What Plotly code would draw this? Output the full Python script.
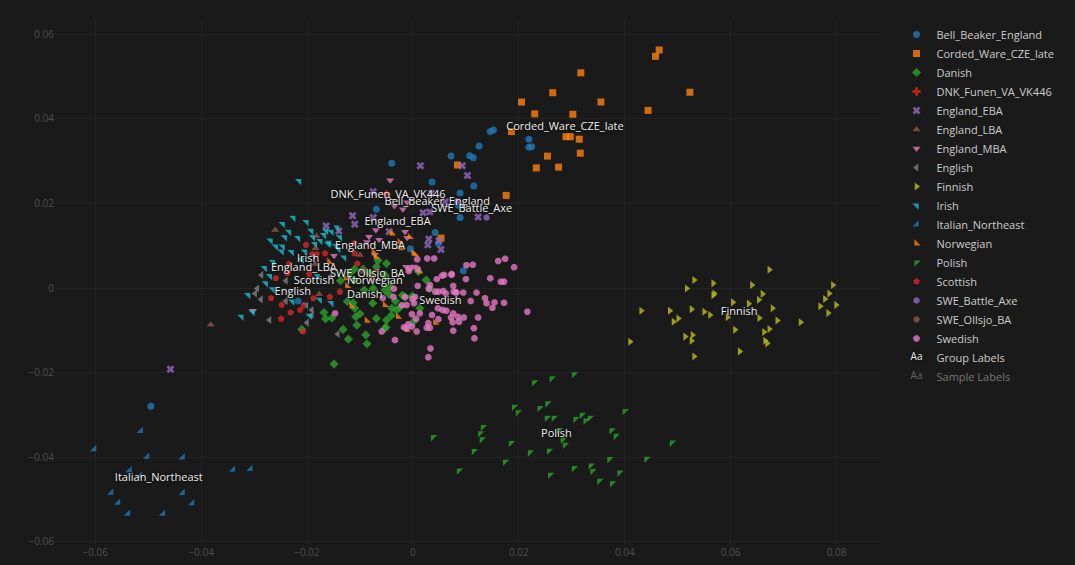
import plotly.graph_objects as go

# ---------------- data (PC1, PC2) ----------------
bell_beaker_x = [-0.0495, 0.0152, 0.0146, 0.0125, 0.0219, 0.0224, 0.0219, 0.0107, 0.0114, 0.0072, 0.0115,
                 0.0089, -0.0040, 0.0036, -0.0069, 0.0086, 0.0089, 0.0042, -0.0005, 0.0048, 0.0095, -0.0217]
bell_beaker_y = [-0.0280, 0.0374, 0.0370, 0.0336, 0.0352, 0.0334, 0.0333, 0.0313, 0.0308, 0.0312, 0.0241,
                 0.0225, 0.0295, 0.0251, 0.0186, 0.0196, 0.0167, 0.0131, 0.0093, 0.0105, 0.0041, -0.0031]

corded_x = [0.0465, 0.0458, 0.0317, 0.0264, 0.0205, 0.0355, 0.0523, 0.0230, 0.0302, 0.0444, 0.0186,
            0.0289, 0.0297, 0.0314, 0.0316, 0.0254, 0.0233, 0.0275, 0.0176, 0.0084, 0.0053]
corded_y = [0.0563, 0.0548, 0.0509, 0.0462, 0.0440, 0.0440, 0.0463, 0.0412, 0.0411, 0.0420, 0.0370,
            0.0358, 0.0358, 0.0352, 0.0319, 0.0312, 0.0284, 0.0286, 0.0219, 0.0291, 0.0118]

danish_x = [-0.0168, -0.0165, -0.0153, -0.0210, -0.0132, -0.0122, -0.0149, -0.0108, -0.0100, -0.0089, -0.0087,
            -0.0069, -0.0113, -0.0110, -0.0124, -0.0076, -0.0118, -0.0137, -0.0111, -0.0081, -0.0069, -0.0050,
            -0.0053, -0.0106, -0.0110, -0.0094, -0.0092, -0.0075, -0.0053, -0.0033, -0.0020, -0.0001, -0.0041,
            -0.0031, 0.0025, 0.0032, 0.0010, -0.0066, -0.0050, -0.0053, -0.0040, -0.0051, -0.0025, 0.0001,
            0.0013, -0.0043, -0.0015, -0.0045]
danish_y = [-0.0058, -0.0073, -0.0071, -0.0098, -0.0098, -0.0121, -0.0180, -0.0068, -0.0061, -0.0111, -0.0132,
            -0.0072, -0.0035, -0.0048, -0.0032, -0.0036, 0.0036, 0.0017, 0.0019, 0.0035, 0.0050, -0.0076,
            -0.0095, -0.0088, 0.0045, 0.0045, -0.0005, -0.0001, -0.0005, -0.0031, -0.0017, -0.0019, -0.0065,
            -0.0052, 0.0019, -0.0001, 0.0039, 0.0065, 0.0058, 0.0031, -0.0048, -0.0093, -0.0046, -0.0080,
            -0.0048, 0.0003, -0.0022, -0.0015]

dnk_funen_x = [-0.0050]
dnk_funen_y = [0.0222]

england_eba_x = [-0.0458, 0.0014, 0.0093, 0.0103, -0.0075, 0.0035, 0.0061, 0.0019, 0.0032, 0.0123,
                 -0.0114, -0.0110, -0.0075, -0.0140, -0.0045, 0.0030, 0.0028, 0.0049, -0.0164, 0.0053]
england_eba_y = [-0.0192, 0.0289, 0.0289, 0.0266, 0.0228, 0.0224, 0.0204, 0.0178, 0.0180, 0.0168,
                 0.0171, 0.0151, 0.0167, 0.0135, 0.0133, 0.0116, 0.0102, 0.0112, 0.0147, 0.0091]

england_lba_x = [-0.0382, -0.0260, -0.0182, -0.0184, -0.0177, -0.0069, -0.0100, -0.0041, -0.0185]
england_lba_y = [-0.0087, 0.0137, 0.0123, 0.0094, -0.0015, 0.0043, 0.0078, 0.0132, 0.0057]

england_mba_x = [-0.0043, -0.0011, -0.0035, -0.0019, -0.0070, -0.0015, -0.0011, -0.0083, -0.0064, -0.0087,
                 -0.0149, -0.0072, -0.0013, 0.0002, -0.0302]
england_mba_y = [0.0255, 0.0203, 0.0194, 0.0186, 0.0137, 0.0133, 0.0119, 0.0121, 0.0114, 0.0109,
                 0.0076, 0.0078, 0.0050, 0.0051, -0.0054]

english_x = [-0.0286, -0.0294, -0.0298, -0.0287, -0.0240, -0.0240, -0.0271, -0.0191, -0.0191, -0.0200,
             -0.0142, -0.0155]
english_y = [0.0031, -0.0001, -0.0013, -0.0027, 0.0017, -0.0031, -0.0076, -0.0052, -0.0064, -0.0082,
             -0.0109, 0.0028]

finnish_x = [0.0673, 0.0531, 0.0567, 0.0517, 0.0640, 0.0569, 0.0567, 0.0660, 0.0653, 0.0604, 0.0634,
             0.0793, 0.0786, 0.0778, 0.0769, 0.0799, 0.0784, 0.0431, 0.0485, 0.0526, 0.0550, 0.0561,
             0.0492, 0.0501, 0.0594, 0.0654, 0.0679, 0.0688, 0.0732, 0.0608, 0.0663, 0.0673, 0.0665,
             0.0669, 0.0514, 0.0528, 0.0526, 0.0410, 0.0617, 0.0531]
finnish_y = [0.0043, 0.0019, 0.0011, -0.0001, 0.0007, -0.0013, -0.0017, -0.0014, -0.0028, -0.0034, -0.0037,
             0.0007, -0.0013, -0.0026, -0.0043, -0.0040, -0.0059, -0.0054, -0.0054, -0.0050, -0.0056, -0.0064,
             -0.0080, -0.0072, -0.0069, -0.0071, -0.0048, -0.0077, -0.0081, -0.0099, -0.0104, -0.0097, -0.0125,
             -0.0131, -0.0115, -0.0111, -0.0125, -0.0127, -0.0150, -0.0162]

irish_x = [-0.0215, -0.0226, -0.0246, -0.0201, -0.0234, -0.0269, -0.0242, -0.0217, -0.0192, -0.0189, -0.0259,
           -0.0246, -0.0229, -0.0248, -0.0204, -0.0175, -0.0164, -0.0154, -0.0143, -0.0158, -0.0145, -0.0141,
           -0.0168, -0.0264, -0.0280, -0.0210, -0.0138, -0.0270, -0.0278, -0.0265, -0.0311, -0.0324, -0.0228,
           -0.0202, -0.0176, -0.0154, -0.0180, -0.0195, -0.0185, -0.0160, -0.0303, -0.0188, -0.0130]
irish_y = [0.0253, 0.0166, 0.0151, 0.0156, 0.0133, 0.0112, 0.0120, 0.0118, 0.0135, 0.0120, 0.0098,
           0.0098, 0.0085, 0.0086, 0.0086, 0.0111, 0.0135, 0.0133, 0.0143, 0.0107, 0.0099, 0.0092,
           0.0125, 0.0061, 0.0047, 0.0066, 0.0120, 0.0028, 0.0011, -0.0003, -0.0017, -0.0068, -0.0032,
           -0.0040, -0.0028, -0.0036, 0.0028, -0.0066, 0.0104, 0.0104, -0.0057, 0.0076, 0.0072]

italian_x = [-0.0514, -0.0602, -0.0502, -0.0435, -0.0340, -0.0307, -0.0535, -0.0516, -0.0570, -0.0435,
             -0.0557, -0.0417, -0.0538, -0.0472]
italian_y = [-0.0338, -0.0381, -0.0399, -0.0401, -0.0430, -0.0428, -0.0431, -0.0444, -0.0484, -0.0485,
             -0.0508, -0.0509, -0.0534, -0.0534]

norwegian_x = [-0.0006, 0.0001, 0.0012, -0.0028, 0.0042, -0.0053, -0.0012, -0.0025, -0.0040, -0.0023,
               -0.0074, -0.0070, -0.0158, -0.0127, -0.0124, 0.0004, -0.0116, -0.0087]
norwegian_y = [0.0121, 0.0082, 0.0039, -0.0068, -0.0082, -0.0040, -0.0099, 0.0109, 0.0129, 0.0094,
               0.0085, 0.0073, 0.0062, 0.0023, 0.0005, 0.0080, -0.0043, -0.0077]

polish_x = [0.0229, 0.0262, 0.0304, 0.0191, 0.0198, 0.0239, 0.0254, 0.0253, 0.0266, 0.0307, 0.0319,
            0.0326, 0.0334, 0.0400, 0.0132, 0.0127, 0.0130, 0.0038, 0.0115, 0.0185, 0.0221, 0.0257,
            0.0276, 0.0283, 0.0287, 0.0375, 0.0383, 0.0489, 0.0087, 0.0174, 0.0259, 0.0304, 0.0336,
            0.0339, 0.0371, 0.0441, 0.0390, 0.0352, 0.0376]
polish_y = [-0.0223, -0.0214, -0.0204, -0.0281, -0.0294, -0.0284, -0.0273, -0.0307, -0.0307, -0.0310, -0.0300,
            -0.0314, -0.0307, -0.0291, -0.0329, -0.0344, -0.0358, -0.0353, -0.0386, -0.0367, -0.0389, -0.0385,
            -0.0336, -0.0359, -0.0371, -0.0337, -0.0350, -0.0366, -0.0432, -0.0411, -0.0442, -0.0426, -0.0420,
            -0.0433, -0.0405, -0.0404, -0.0437, -0.0456, -0.0462]

scottish_x = [-0.0202, -0.0190, -0.0182, -0.0166, -0.0234, -0.0237, -0.0196, -0.0259, -0.0268, -0.0248, -0.0213,
              -0.0231, -0.0206, -0.0249, -0.0208, -0.0188, -0.0157, -0.0138, -0.0105, -0.0110, -0.0111]
scottish_y = [0.0102, 0.0080, 0.0080, 0.0082, 0.0057, 0.0035, 0.0033, 0.0023, -0.0024, -0.0040, -0.0052,
              -0.0058, -0.0041, -0.0073, -0.0103, -0.0024, -0.0021, -0.0009, 0.0058, 0.0082, 0.0106]

swe_battle_axe_x = [0.0139, 0.0083]
swe_battle_axe_y = [0.0167, 0.0205]

swe_ollsjo_x = [-0.0095, -0.0078]
swe_ollsjo_y = [0.0040, 0.0024]

swedish_x = [0.0040, 0.0008, 0.0113, 0.0161, 0.0174, 0.0191, -0.0008, 0.0073, 0.0055, 0.0045, 0.0100,
             0.0146, 0.0166, 0.0172, 0.0076, 0.0009, 0.0032, 0.0030, -0.0036, 0.0004, 0.0042, 0.0048,
             0.0057, 0.0062, 0.0081, 0.0095, 0.0120, 0.0136, 0.0154, 0.0172, 0.0139, 0.0150, 0.0109,
             0.0216, -0.0021, -0.0012, 0.0002, 0.0056, 0.0063, 0.0076, 0.0085, 0.0072, 0.0096, 0.0123,
             0.0036, 0.0048, 0.0087, 0.0075, 0.0115, 0.0076, -0.0002, 0.0006, -0.0009, -0.0002, 0.0007,
             -0.0012, -0.0017, 0.0026, 0.0032, -0.0034, -0.0059, 0.0116, 0.0033, 0.0029, -0.0037, -0.0015,
             -0.0147, -0.0001, 0.0009, 0.0101, 0.0073, 0.0059, 0.0077, 0.0082, 0.0047, 0.0013, -0.0057,
             -0.0006, 0.0027, 0.0029]
swedish_y = [0.0070, 0.0068, 0.0055, 0.0064, 0.0069, 0.0049, 0.0040, 0.0033, 0.0029, 0.0021, 0.0021,
             0.0023, 0.0015, 0.0015, 0.0005, 0.0005, 0.0007, -0.0002, -0.0002, -0.0021, -0.0009, -0.0009,
             -0.0007, -0.0013, -0.0010, -0.0011, -0.0011, -0.0024, -0.0034, -0.0035, -0.0036, -0.0047, -0.0031,
             -0.0056, -0.0041, -0.0040, -0.0036, -0.0052, -0.0054, -0.0060, -0.0068, -0.0070, -0.0070, -0.0070,
             -0.0064, -0.0074, -0.0080, -0.0081, -0.0095, -0.0101, -0.0062, -0.0073, -0.0086, -0.0091, -0.0103,
             -0.0095, -0.0093, -0.0094, -0.0094, -0.0123, -0.0103, -0.0119, -0.0143, -0.0164, -0.0021, -0.0021,
             -0.0060, -0.0026, 0.0045, 0.0054, 0.0031, 0.0031, -0.0009, -0.0011, -0.0048, -0.0060, -0.0024,
             0.0046, 0.0070, -0.0083]

# group label positions (as shown)
label_names = ["Bell_Beaker_England", "Corded_Ware_CZE_late", "Danish", "DNK_Funen_VA_VK446", "England_EBA",
               "England_LBA", "England_MBA", "English", "Finnish", "Irish", "Italian_Northeast", "Norwegian",
               "Polish", "Scottish", "SWE_Battle_Axe", "SWE_Ollsjo_BA", "Swedish"]
label_x = [0.0046, 0.0287, -0.0091, -0.0047, -0.0029, -0.0206, -0.0081, -0.0227, 0.0616, -0.0198, -0.0480,
           -0.0072, 0.0271, -0.0187, 0.0111, -0.0086, 0.0052]
label_y = [0.0204, 0.0380, -0.0017, 0.0220, 0.0155, 0.0047, 0.0099, -0.0010, -0.0057, 0.0068, -0.0451,
           0.0017, -0.0347, 0.0015, 0.0186, 0.0032, -0.0031]

x_range = [-0.0676, 0.0882]
y_range = [-0.0608, 0.0634]

# ---------------- figure ----------------
groups = [
    ("Bell_Beaker_England", bell_beaker_x, bell_beaker_y, "circle", "#1f77b4"),
    ("Corded_Ware_CZE_late", corded_x, corded_y, "square", "#ff7f0e"),
    ("Danish", danish_x, danish_y, "diamond", "#2ca02c"),
    ("DNK_Funen_VA_VK446", dnk_funen_x, dnk_funen_y, "cross", "#d62728"),
    ("England_EBA", england_eba_x, england_eba_y, "x", "#9467bd"),
    ("England_LBA", england_lba_x, england_lba_y, "triangle-up", "#8c564b"),
    ("England_MBA", england_mba_x, england_mba_y, "triangle-down", "#e377c2"),
    ("English", english_x, english_y, "triangle-left", "#7f7f7f"),
    ("Finnish", finnish_x, finnish_y, "triangle-right", "#bcbd22"),
    ("Irish", irish_x, irish_y, "triangle-ne", "#17becf"),
    ("Italian_Northeast", italian_x, italian_y, "triangle-se", "#1f77b4"),
    ("Norwegian", norwegian_x, norwegian_y, "triangle-sw", "#ff7f0e"),
    ("Polish", polish_x, polish_y, "triangle-nw", "#2ca02c"),
    ("Scottish", scottish_x, scottish_y, "pentagon", "#d62728"),
    ("SWE_Battle_Axe", swe_battle_axe_x, swe_battle_axe_y, "hexagon", "#9467bd"),
    ("SWE_Ollsjo_BA", swe_ollsjo_x, swe_ollsjo_y, "hexagon2", "#8c564b"),
    ("Swedish", swedish_x, swedish_y, "octagon", "#e377c2"),
]

fig = go.Figure()
for name, xs, ys, sym, col in groups:
    fig.add_trace(go.Scatter(
        x=xs, y=ys, mode="markers", name=name,
        marker=dict(symbol=sym, size=7, color=col, opacity=0.8, line=dict(width=0)),
    ))

fig.add_trace(go.Scatter(
    x=label_x, y=label_y, mode="text", name="Group Labels", text=label_names,
    textposition="middle center",
    textfont=dict(color="#eeeeee", size=11, shadow="0px 0px 3px #000"),
))
fig.add_trace(go.Scatter(
    x=label_x, y=label_y, mode="text", name="Sample Labels", text=label_names,
    visible="legendonly", textfont=dict(color="#aaaaaa", size=9),
))

fig.update_layout(
    width=1075, height=565,
    paper_bgcolor="#1a1a1a", plot_bgcolor="#1a1a1a",
    margin=dict(l=55, r=195, t=20, b=20, autoexpand=False),
    font=dict(family="Open Sans, Arial, sans-serif", color="#cccccc", size=11),
    legend=dict(x=1.02, y=1.0, yanchor="top", xanchor="left", bgcolor="rgba(0,0,0,0)",
                font=dict(size=11, color="#cccccc"), tracegroupgap=0),
    showlegend=True,
    hovermode="closest",
)
fig.update_xaxes(range=x_range, dtick=0.02, showgrid=True, gridcolor="#232323", zeroline=False,
                 tickfont=dict(color="#4f4f4f", size=10), showline=False, ticks="", automargin=False)
fig.update_yaxes(range=y_range, dtick=0.02, showgrid=True, gridcolor="#232323", zeroline=False,
                 tickfont=dict(color="#4f4f4f", size=10), showline=False, ticks="", automargin=False)

fig.write_html(
    "out.html",
    config={"displayModeBar": False},
    post_script="document.body.style.margin='0';document.body.style.background='#1a1a1a';document.body.style.overflow='hidden';",
)
